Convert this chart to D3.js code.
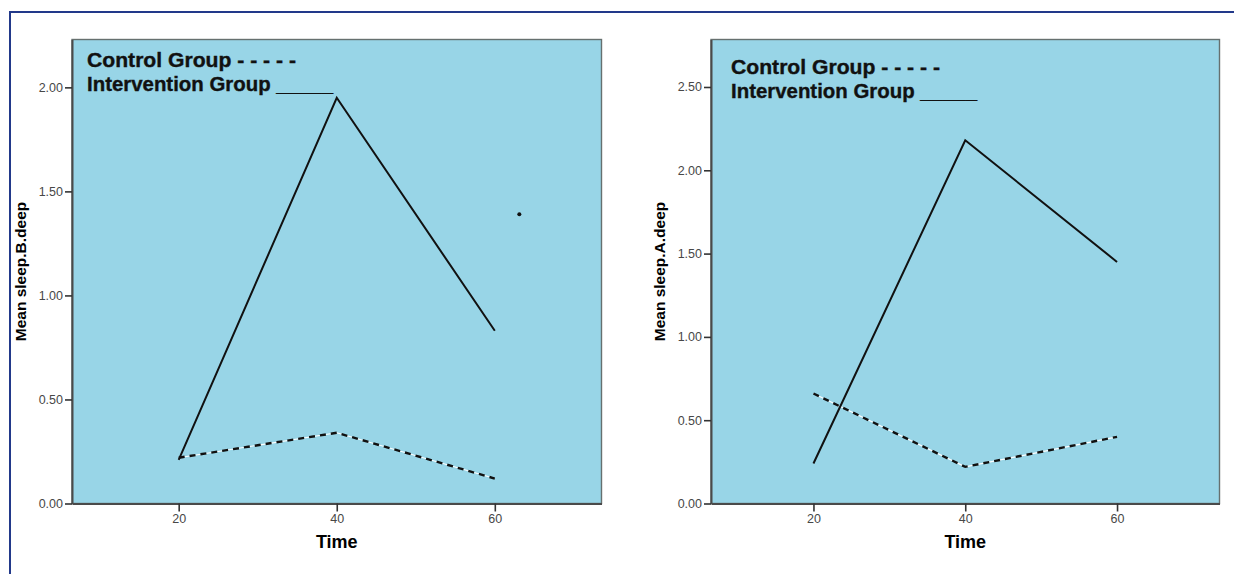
<!DOCTYPE html>
<html>
<head>
<meta charset="utf-8">
<script src="https://cdn.jsdelivr.net/npm/d3@7"></script>
<style>
	body { margin: 0; background: #fff; }
	svg { display: block; font-family: Arial, "Liberation Sans", sans-serif; }
</style>
</head>
<body>
<div id="chart"></div>
<script>
// values
const times = [20, 40, 60];
const xTicks = [20, 40, 60];

const deepBControl = [0.22, 0.34, 0.12];
const deepBIntervention = [0.21, 1.95, 0.83];
const deepBStray = [[63.1, 1.39]]; // lone dot on the left plot
const deepBTicks = [0, 0.5, 1, 1.5, 2];

const deepAControl = [0.66, 0.22, 0.40];
const deepAIntervention = [0.24, 2.18, 1.45];
const deepATicks = [0, 0.5, 1, 1.5, 2, 2.5];

const legendLabels = ["Control Group - - - - -", "Intervention Group _____"];

const W = 1234, H = 574;
const svg = d3.select("#chart").append("svg")
	.attr("width", W)
	.attr("height", H);

// outer navy frame (only top and left show in the crop)
svg.append("rect")
	.attr("x", 10).attr("y", 12)
	.attr("width", W + 20).attr("height", H + 20)
	.attr("fill", "none")
	.attr("stroke", "#22398a")
	.attr("stroke-width", 2);

function panel(opt) {
	const x = d3.scaleLinear().domain([6.5, 73.5]).range([opt.left, opt.right]);
	const y = d3.scaleLinear().domain([0, opt.yMax]).range([opt.bottom, opt.top]);
	const g = svg.append("g");

	g.append("rect")
		.attr("x", opt.left).attr("y", opt.top)
		.attr("width", opt.right - opt.left)
		.attr("height", opt.bottom - opt.top)
		.attr("fill", "#98d5e7")
		.attr("stroke", "#66706f")
		.attr("stroke-width", 1.4);

	const yAxis = g.append("g")
		.attr("transform", `translate(${opt.left},0)`)
		.call(d3.axisLeft(y).tickValues(opt.ticks).tickFormat(d3.format(".2f")).tickSize(7).tickPadding(2).tickSizeOuter(0));
	const xAxis = g.append("g")
		.attr("transform", `translate(0,${opt.bottom})`)
		.call(d3.axisBottom(x).tickValues(xTicks).tickFormat(d3.format("d")).tickSize(8).tickPadding(3).tickSizeOuter(0));
	[yAxis, xAxis].forEach(a => {
		a.attr("font-family", "Arial, 'Liberation Sans', sans-serif");
		a.select(".domain").attr("stroke", "#4a4a4a").attr("stroke-width", 2);
		a.selectAll(".tick line").attr("stroke", "#333").attr("stroke-width", 1.6);
		a.selectAll(".tick text").attr("fill", "#474747").style("font-size", "12.5px");
	});

	const line = d3.line().x((d, i) => x(times[i])).y(d => y(d));

	// control: black dashes over a thin white line
	g.append("path").datum(opt.control)
		.attr("d", line).attr("fill", "none")
		.attr("stroke", "#fff").attr("stroke-width", 1.2);
	g.append("path").datum(opt.control)
		.attr("d", line).attr("fill", "none")
		.attr("stroke", "#111").attr("stroke-width", 2.4)
		.attr("stroke-dasharray", "6 5");

	g.append("path").datum(opt.intervention)
		.attr("d", line).attr("fill", "none")
		.attr("stroke", "#111").attr("stroke-width", 2);

	g.selectAll("circle.stray").data(opt.stray || [])
		.join("circle").attr("class", "stray")
		.attr("cx", d => x(d[0])).attr("cy", d => y(d[1]))
		.attr("r", 2).attr("fill", "#111");

	// legend written as text inside the plot
	g.selectAll("text.legend").data(legendLabels)
		.join("text").attr("class", "legend")
		.attr("x", opt.legendX)
		.attr("y", (d, i) => opt.legendY + i * 24)
		.attr("textLength", (d, i) => i ? 246 : 209)
		.attr("lengthAdjust", "spacingAndGlyphs")
		.style("font-size", "19.5px")
		.style("font-weight", "bold")
		.attr("fill", "#111")
		.attr("stroke", "#111")
		.attr("stroke-width", 0.35)
		.text(d => d);

	g.append("text")
		.attr("x", (opt.left + opt.right) / 2)
		.attr("y", 548)
		.attr("text-anchor", "middle")
		.style("font-size", "18px").style("font-weight", "bold")
		.text("Time");

	g.append("text")
		.attr("transform", `translate(${opt.titleX},${(opt.top + opt.bottom) / 2}) rotate(-90)`)
		.attr("text-anchor", "middle")
		.style("font-size", "15.5px").style("font-weight", "bold")
		.text(opt.title);
}

panel({
	left: 72, right: 601.5, top: 39.5, bottom: 503.5, yMax: 2.23,
	ticks: deepBTicks, control: deepBControl, intervention: deepBIntervention,
	stray: deepBStray, legendX: 87, legendY: 67,
	title: "Mean sleep.B.deep", titleX: 26
});

panel({
	left: 711, right: 1219.5, top: 39.5, bottom: 503.5, yMax: 2.785,
	ticks: deepATicks, control: deepAControl, intervention: deepAIntervention,
	legendX: 731, legendY: 74,
	title: "Mean sleep.A.deep", titleX: 665
});
</script>
</body>
</html>
